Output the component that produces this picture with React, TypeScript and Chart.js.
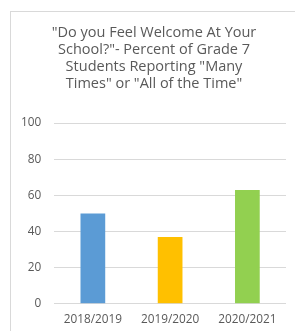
import React, { useEffect, useRef } from "react";
import { Chart, registerables } from "chart.js";

Chart.register(...registerables);

const categories = ["2018/2019", "2019/2020", "2020/2021"];
const values = [50, 37, 63];
const barColors = ["#5B9BD5", "#FFC000", "#92D050"];
const titleLines = [
  '"Do you Feel Welcome At Your',
  'School?"- Percent of Grade 7',
  'Students Reporting "Many',
  'Times" or "All of the Time"',
];

const titlePlugin = {
  id: "multiTitle",
  afterDraw(chart: any) {
    const ctx = chart.ctx;
    ctx.save();
    ctx.fillStyle = "#595959";
    ctx.font = "14.5px 'Open Sans', sans-serif";
    ctx.textAlign = "center";
    ctx.textBaseline = "middle";
    titleLines.forEach((line, i) => {
      ctx.fillText(line, 154, 33 + i * 17);
    });
    ctx.restore();
  },
};

export default function App() {
  const ref = useRef<HTMLCanvasElement>(null);
  useEffect(() => {
    if (!ref.current) return;
    const chart = new Chart(ref.current, {
      type: "bar",
      data: {
        labels: categories,
        datasets: [
          {
            data: values,
            backgroundColor: barColors,
            borderWidth: 0,
            barPercentage: 0.64,
            categoryPercentage: 0.5,
          },
        ],
      },
      plugins: [titlePlugin],
      options: {
        animation: false,
        responsive: false,
        maintainAspectRatio: false,
        layout: { padding: { left: 8, right: 9, top: 123, bottom: 3 } },
        plugins: {
          legend: { display: false },
          tooltip: { enabled: false },
          title: { display: false },
        },
        scales: {
          x: {
            grid: { display: false },
            border: { display: false },
            ticks: {
              color: "#595959",
              font: { family: "'Open Sans', sans-serif", size: 11.8 },
              padding: 1,
            },
          },
          y: {
            min: 0,
            max: 100,
            ticks: {
              stepSize: 20,
              color: "#595959",
              font: { family: "'Open Sans', sans-serif", size: 11.8 },
              padding: 13,
            },
            grid: { color: "#D9D9D9", drawTicks: false, lineWidth: 1 },
            border: { display: false },
          },
        },
      },
    });
    return () => chart.destroy();
  }, []);
  return (
    <div>
      <canvas
        ref={ref}
        width={295}
        height={331}
        style={{ position: "absolute", left: 0, top: 0, width: 295, height: 331 }}
      />
      <div
        style={{
          position: "absolute",
          left: 10,
          top: 11,
          width: 300,
          height: 340,
          border: "1px solid #D9D9D9",
          pointerEvents: "none",
        }}
      />
    </div>
  );
}
